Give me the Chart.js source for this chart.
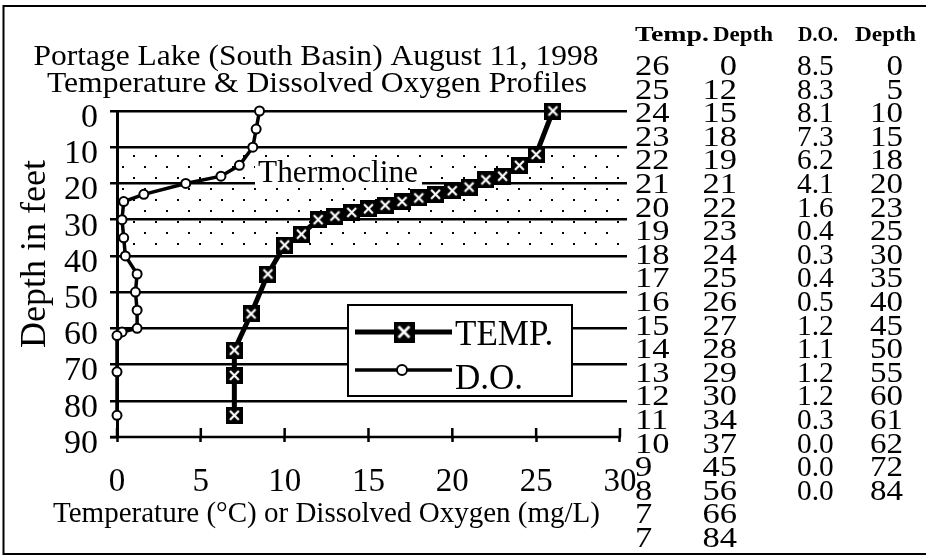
<!DOCTYPE html>
<html><head><meta charset="utf-8">
<script src="https://cdn.jsdelivr.net/npm/chart.js@4.4.0/dist/chart.umd.min.js"></script>
<style>html,body{margin:0;padding:0;background:#fff;overflow:hidden}#wrap{width:926px;height:557px}</style>
</head><body><div id="wrap"><canvas id="c" width="926" height="557"></canvas></div>
<script>
// ---------- data ----------
const titleLines = ["Portage Lake (South Basin) August 11, 1998", "Temperature & Dissolved Oxygen Profiles"];
const xAxisTitle = "Temperature (°C) or Dissolved Oxygen (mg/L)";
const yAxisTitle = "Depth in feet";
const xTickValues = [0, 5, 10, 15, 20, 25, 30];
const yTickValues = [0, 10, 20, 30, 40, 50, 60, 70, 80, 90];
const seriesNames = ["TEMP.", "D.O."];
// plotted temperature profile (°C vs depth ft)
const tempValues = [26, 25, 24, 23, 22, 21, 20, 19, 18, 17, 16, 15, 14, 13, 12, 11, 10, 9, 8, 7, 7, 7];
const tempDepths = [0, 12, 15, 18, 19, 21, 22, 23, 24, 25, 26, 27, 28, 29, 30, 34, 37, 45, 56, 66, 73, 84];
// plotted dissolved oxygen profile (mg/L vs depth ft)
const doValues = [8.5, 8.3, 8.1, 7.3, 6.2, 4.1, 1.6, 0.4, 0.3, 0.4, 0.5, 1.2, 1.1, 1.2, 1.2, 0.3, 0.0, 0.0, 0.0];
const doDepths = [0, 5, 10, 15, 18, 20, 23, 25, 30, 35, 40, 45, 50, 55, 60, 61, 62, 72, 84];
const thermoclineTop = 10, thermoclineBottom = 38;
const thermoclineLabel = "Thermocline";
// data table text
const tableHeaders = ["Temp.", "Depth", "D.O.", "Depth"];
const tableTemp = ["26","25","24","23","22","21","20","19","18","17","16","15","14","13","12","11","10","9","8","7","7"];
const tableTempDepth = ["0","12","15","18","19","21","22","23","24","25","26","27","28","29","30","34","37","45","56","66","84"];
const tableDO = ["8.5","8.3","8.1","7.3","6.2","4.1","1.6","0.4","0.3","0.4","0.5","1.2","1.1","1.2","1.2","0.3","0.0","0.0","0.0"];
const tableDODepth = ["0","5","10","15","18","20","23","25","30","35","40","45","50","55","60","61","62","72","84"];

// ---------- helpers ----------
const FONT = "'Liberation Serif', 'Times New Roman', serif";
function makeXMarker(size){
  const c=document.createElement('canvas'); c.width=size; c.height=size;
  const g=c.getContext('2d');
  g.fillStyle='#000'; g.fillRect(0,0,size,size);
  g.strokeStyle='#fff'; g.lineWidth=Math.max(2,size*0.13);
  const m=size*0.24;
  g.beginPath(); g.moveTo(m,m); g.lineTo(size-m,size-m); g.moveTo(size-m,m); g.lineTo(m,size-m); g.stroke();
  return c;
}
const xMarker = makeXMarker(17);
const xMarkerLegend = makeXMarker(21);

function txt(ctx, s, x, y, size, o){
  o = o || {};
  ctx.save();
  ctx.font = (o.bold?'bold ':'') + size + 'px ' + FONT;
  ctx.fillStyle = '#000';
  ctx.textBaseline = 'alphabetic';
  ctx.textAlign = 'left';
  const w = ctx.measureText(s).width;
  const sx = o.width ? o.width / w : (o.sx || 1);
  const align = o.align || 'left';
  const left = align==='left' ? x : align==='center' ? x - w*sx/2 : x - w*sx;
  ctx.translate(left, y);
  ctx.scale(sx, 1);
  ctx.fillText(s, 0, 0);
  ctx.restore();
}
let dotPattern = null;
function getPattern(ctx){
  if (dotPattern) return dotPattern;
  const c=document.createElement('canvas'); c.width=22; c.height=22;
  const g=c.getContext('2d');
  g.fillStyle='#000'; g.fillRect(1,1,2,2); g.fillRect(12,12,2,2);
  dotPattern = ctx.createPattern(c,'repeat');
  return dotPattern;
}

const decor = {
  id:'decor',
  beforeDraw(chart){
    const {ctx, chartArea:a} = chart; const y = chart.scales.y;
    ctx.save();
    ctx.fillStyle='#fff'; ctx.fillRect(0,0,chart.width,chart.height);
    ctx.strokeStyle='#000'; ctx.lineWidth=2; ctx.strokeRect(3.5,6,1000,548);
    const y1=y.getPixelForValue(thermoclineTop), y2=y.getPixelForValue(thermoclineBottom);
    ctx.fillStyle=getPattern(ctx);
    ctx.fillRect(a.left+2, y1, a.right-a.left-2, y2-y1);
    ctx.restore();
  },
  beforeDatasetsDraw(chart){
    const {ctx} = chart; const x = chart.scales.x, y = chart.scales.y;
    ctx.save();
    ctx.fillStyle='#fff'; ctx.fillRect(255,157,167,29);
    txt(ctx, thermoclineLabel, 258, 182, 32, {width:160});
    const yb = y.getPixelForValue(90);
    ctx.strokeStyle='#000'; ctx.lineWidth=2.5;
    ctx.beginPath(); ctx.moveTo(110, yb); ctx.lineTo(x.getPixelForValue(30)+1, yb); ctx.stroke();
    ctx.beginPath();
    xTickValues.forEach(v=>{ const px=x.getPixelForValue(v); ctx.moveTo(px, yb-9); ctx.lineTo(px, yb); });
    ctx.stroke();
    ctx.restore();
  },
  afterDatasetsDraw(chart){
    const {ctx} = chart;
    ctx.save();
    // legend
    ctx.fillStyle='#fff'; ctx.fillRect(348,305,224,91);
    ctx.strokeStyle='#000'; ctx.lineWidth=2; ctx.strokeRect(348,305,224,91);
    ctx.lineWidth=5; ctx.beginPath(); ctx.moveTo(355,332); ctx.lineTo(452,332); ctx.stroke();
    ctx.drawImage(xMarkerLegend, 404-10.5, 332-10.5);
    ctx.lineWidth=3.5; ctx.beginPath(); ctx.moveTo(355,370); ctx.lineTo(452,370); ctx.stroke();
    ctx.fillStyle='#fff'; ctx.lineWidth=2; ctx.beginPath(); ctx.arc(402,370,5,0,Math.PI*2); ctx.fill(); ctx.stroke();
    txt(ctx, chart.data.datasets[0].label, 455, 345, 35);
    txt(ctx, chart.data.datasets[1].label, 455, 389, 35);
    // titles
    txt(ctx, titleLines[0], 316, 65, 30, {align:'center', width:565});
    txt(ctx, titleLines[1], 317, 92, 30, {align:'center', width:540});
    txt(ctx, xAxisTitle, 326.5, 522, 29, {align:'center', width:547});
    ctx.save();
    ctx.translate(45, 254); ctx.rotate(-Math.PI/2);
    txt(ctx, yAxisTitle, 0, 0, 36, {align:'center'});
    ctx.restore();
    // table
    txt(ctx, tableHeaders[0], 635, 41, 21, {width:74, bold:true});
    txt(ctx, tableHeaders[1], 713, 41, 21, {width:60, bold:true});
    txt(ctx, tableHeaders[2], 798, 41, 21, {width:40, bold:true});
    txt(ctx, tableHeaders[3], 855, 41, 21, {width:61, bold:true});
    const pitch = 23.6, base = 75;
    tableTemp.forEach((s,i)=>txt(ctx, s, 635, base+i*pitch, 30, {sx:1.15}));
    tableTempDepth.forEach((s,i)=>txt(ctx, s, 737, base+i*pitch, 30, {sx:1.15, align:'right'}));
    tableDO.forEach((s,i)=>txt(ctx, s, 797, base+i*pitch, 30, {sx:0.98}));
    tableDODepth.forEach((s,i)=>txt(ctx, s, 903, base+i*pitch, 30, {sx:1.1, align:'right'}));
    ctx.restore();
  }
};

new Chart(document.getElementById('c'), {
  type:'line',
  data:{ datasets:[
    { label:seriesNames[0], data:tempValues.map((v,i)=>({x:v,y:tempDepths[i]})), borderColor:'#000', borderWidth:5,
      pointStyle:xMarker, pointRadius:8.5, clip:false, tension:0, fill:false },
    { label:seriesNames[1], data:doValues.map((v,i)=>({x:v,y:doDepths[i]})), borderColor:'#000', borderWidth:3.5,
      pointStyle:'circle', pointRadius:4.5, pointBackgroundColor:'#fff', pointBorderColor:'#000', pointBorderWidth:2,
      clip:false, tension:0, fill:false }
  ]},
  options:{
    responsive:false, animation:false, events:[], devicePixelRatio:1,
    layout:{padding:{left:0, top:111, right:299, bottom:60}},
    plugins:{legend:{display:false}, tooltip:{enabled:false}, title:{display:false}},
    scales:{
      x:{ type:'linear', min:0, max:30.42,
          afterBuildTicks:s=>{ s.ticks = xTickValues.map(v=>({value:v})); },
          afterFit:s=>{ s.height = 60; },
          grid:{display:true, drawOnChartArea:false, drawTicks:true, tickLength:5, tickColor:'#000', tickWidth:2.5},
          border:{display:false},
          ticks:{font:{family:FONT, size:33}, color:'#000', padding:21, maxRotation:0, autoSkip:false, callback:v=>String(v)} },
      y:{ type:'linear', reverse:true, min:0, max:90,
          afterBuildTicks:s=>{ s.ticks = yTickValues.map(v=>({value:v})); },
          afterFit:s=>{ s.width = 117; },
          grid:{color:c=> (c.tick && c.tick.value===90) ? 'rgba(0,0,0,0)' : '#000', lineWidth:2.5, tickLength:7, tickColor:'#000', tickWidth:2.5},
          border:{display:true, color:'#000', width:3},
          ticks:{font:{family:FONT, size:34}, color:'#000', padding:12, labelOffset:7, autoSkip:false, callback:v=>String(v)} }
    }
  },
  plugins:[decor]
});
</script></body></html>
